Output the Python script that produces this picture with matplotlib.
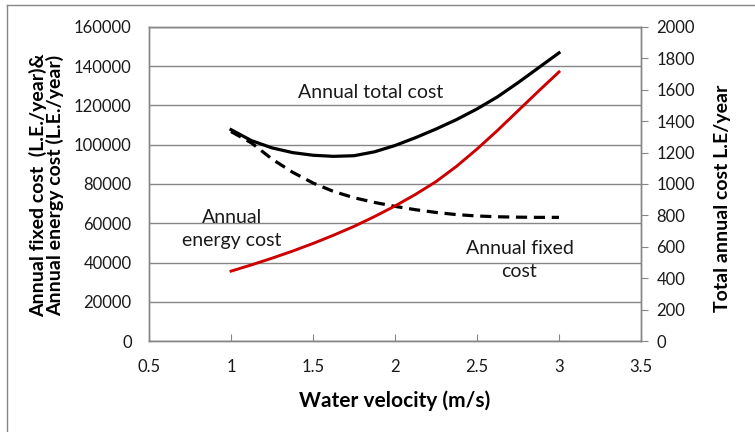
import matplotlib.pyplot as plt
from matplotlib.lines import Line2D

plt.rcParams['font.family'] = ['Lato', 'DejaVu Sans']

# data
velocity = [1.0, 1.125, 1.25, 1.375, 1.5, 1.625, 1.75, 1.875, 2.0,
            2.125, 2.25, 2.375, 2.5, 2.625, 2.75, 2.875, 3.0]
# total annual cost (right axis)
total_cost = [1346, 1276, 1230, 1200, 1183, 1176, 1180, 1205, 1245,
              1295, 1350, 1410, 1478, 1555, 1645, 1740, 1835]
# annual fixed cost (left axis)
fixed_cost = [106700, 100900, 92700, 86000, 80500, 76200, 73000, 70600, 68600,
              66900, 65500, 64400, 63700, 63300, 63100, 63000, 63000]
# annual energy cost (left axis)
energy_cost = [35600, 38800, 42200, 45800, 49700, 53900, 58400, 63400, 68800,
               74700, 81200, 89000, 97800, 107300, 117300, 127300, 137100]

left_ticks = [0, 20000, 40000, 60000, 80000, 100000, 120000, 140000, 160000]
right_ticks = [0, 200, 400, 600, 800, 1000, 1200, 1400, 1600, 1800, 2000]
x_ticks = [0.5, 1, 1.5, 2, 2.5, 3, 3.5]
x_labels = ['0.5', '1', '1.5', '2', '2.5', '3', '3.5']

grey = '#868686'
txt = '#1a1a1a'

fig = plt.figure(figsize=(7.55, 4.32), dpi=100)
ax = fig.add_axes([0.1974, 0.2106, 0.6516, 0.727])
ax2 = ax.twinx()

ax.plot(velocity, fixed_cost, color='black', linewidth=2.3, linestyle=(0, (3.5, 2.1)),
        solid_capstyle='butt', zorder=3)
ax.plot(velocity, energy_cost, color='#cc0000', linewidth=2.1, zorder=3)
ax2.plot(velocity, total_cost, color='black', linewidth=2.3, zorder=3)

ax.set_xlim(0.5, 3.5)
ax.set_ylim(0, 160000)
ax2.set_ylim(0, 2000)
ax.set_xticks(x_ticks)
ax.set_xticklabels(x_labels)
ax.set_yticks(left_ticks)
ax2.set_yticks(right_ticks)

ax.grid(axis='y', color=grey, linewidth=1.0)
ax.set_axisbelow(True)
for a in (ax, ax2):
    for s in a.spines.values():
        s.set_color(grey)
        s.set_linewidth(1.0)

ax.tick_params(axis='y', length=0, labelsize=12, pad=12.5, labelcolor=txt)
ax.tick_params(axis='x', direction='in', length=5, color=grey, labelsize=12, pad=13, labelcolor=txt)
ax2.tick_params(axis='y', direction='out', length=5, color=grey, labelsize=12, pad=6, labelcolor=txt)

# label positions in axes fraction (plot area is 492 x 314 px, origin at px 149, 341)
ax.set_xlabel('Water velocity (m/s)', fontsize=15, fontweight='bold', color='black')
ax.xaxis.set_label_coords((395 - 149) / 492, -(390 - 341) / 314)
ax.set_ylabel('Annual fixed cost  (L.E./year)&\nAnnual energy cost (L.E./year)',
              fontsize=14, fontweight='bold', linespacing=0.95, color='black')
ax.yaxis.set_label_coords(-(149 - 64) / 492, (341 - 185) / 314)
ax2.set_ylabel('Total annual cost L.E/year', fontsize=14, fontweight='bold', color='black')
ax2.yaxis.set_label_coords((714 - 149) / 492, (341 - 198) / 314)

ax.text(1.85, 126500, 'Annual total cost', fontsize=14, ha='center', va='center', color=txt)
ax.text(1.006, 56900, 'Annual\nenergy cost', fontsize=14, ha='center', va='center',
        linespacing=1.45, color=txt)
ax.text(2.759, 41400, 'Annual fixed\ncost', fontsize=14, ha='center', va='center',
        linespacing=1.45, color=txt)

# outer chart frame (left and top edges visible)
fig.add_artist(Line2D([7 / 755, 7 / 755], [0, 1 - 5 / 432], transform=fig.transFigure,
                      color=grey, linewidth=1.0))
fig.add_artist(Line2D([7 / 755, 1], [1 - 5 / 432, 1 - 5 / 432], transform=fig.transFigure,
                      color=grey, linewidth=1.0))

fig.savefig('out.png', dpi=100)
